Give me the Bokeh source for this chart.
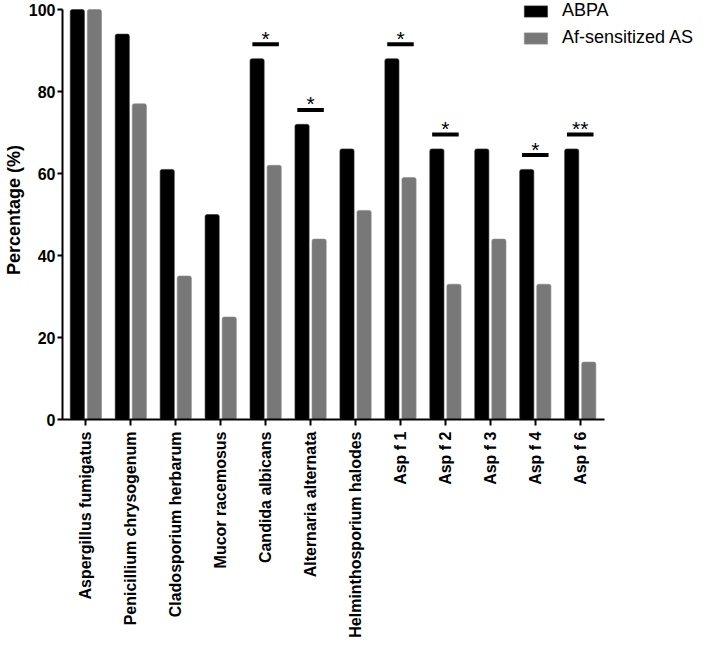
from bokeh.plotting import figure
from bokeh.models import FactorRange, Range1d, ColumnDataSource, Legend, LegendItem, FixedTicker
from bokeh.transform import dodge
from bokeh.core.properties import value
from bokeh.embed import file_html
from bokeh.resources import INLINE
import math

categories = ["Aspergillus fumigatus", "Penicillium chrysogenum", "Cladosporium herbarum",
              "Mucor racemosus", "Candida albicans", "Alternaria alternata",
              "Helminthosporium halodes", "Asp f 1", "Asp f 2", "Asp f 3", "Asp f 4", "Asp f 6"]
abpa = [100, 94, 61, 50, 88, 72, 66, 88, 66, 66, 61, 66]
af_as = [100, 77, 35, 25, 62, 44, 51, 59, 33, 44, 33, 14]
y_ticks = [0, 20, 40, 60, 80, 100]

sig_categories = ["Candida albicans", "Alternaria alternata", "Asp f 1", "Asp f 2", "Asp f 4", "Asp f 6"]
sig_y = [91.5, 75.5, 91.5, 69.5, 64.5, 69.5]
sig_marks = ["*", "*", "*", "*", "*", "**"]

# empty factors that only widen the frame so the legend has room on the right
pad_factors = ["_pad_1", "_pad_2"]

FONT = "Liberation Sans"
GRAY = "#787878"

src = ColumnDataSource(dict(cat=categories, abpa=abpa, af_as=af_as))
sig = ColumnDataSource(dict(cat=sig_categories, y=sig_y, mark=sig_marks))

xr = FactorRange(factors=categories + pad_factors, range_padding=0.04 / 14)
p = figure(x_range=xr, y_range=Range1d(0, 102.2), width=693, height=640,
           output_backend="svg", toolbar_location=None,
           min_border_left=50, min_border_right=0, min_border_top=0, min_border_bottom=200)

r1 = p.vbar(x=dodge("cat", -0.19, range=xr), top="abpa", width=0.315, source=src,
            fill_color="black", line_color="#333333", line_width=0.6, border_radius=2)
r2 = p.vbar(x=dodge("cat", 0.19, range=xr), top="af_as", width=0.315, source=src,
            fill_color=GRAY, line_color="#8a8a8a", line_width=0.6, border_radius=2)

p.segment(x0=dodge("cat", -0.295, range=xr), x1=dodge("cat", 0.295, range=xr),
          y0="y", y1="y", source=sig, line_color="black", line_width=4)
p.text(x="cat", y="y", text="mark", source=sig, text_align="center",
       text_baseline="alphabetic", text_font=value(FONT), text_font_size="21px",
       text_color="black", y_offset=-6)

legend = Legend(items=[LegendItem(label="ABPA", renderers=[r1]),
                       LegendItem(label="Af-sensitized AS", renderers=[r2])],
                location="top_right")
legend.glyph_width = 29
legend.glyph_height = 14
legend.label_text_font = FONT
legend.label_text_font_size = "18px"
legend.label_text_color = "black"
legend.label_standoff = 12
legend.label_height = 20
legend.spacing = 6
legend.padding = 0
legend.margin = 0
legend.border_line_color = None
legend.background_fill_alpha = 0
p.add_layout(legend, "center")

p.xgrid.visible = False
p.ygrid.visible = False
p.outline_line_color = None

p.yaxis.ticker = FixedTicker(ticks=y_ticks)
p.yaxis.bounds = (0, 100)
p.xaxis.bounds = (-0.02, 12.05)
p.yaxis.axis_label = "Percentage (%)"
p.yaxis.axis_label_text_font = FONT
p.yaxis.axis_label_text_font_style = "bold"
p.yaxis.axis_label_text_font_size = "18px"
p.yaxis.axis_label_text_color = "black"
p.yaxis.axis_label_standoff = 2
p.yaxis.minor_tick_line_color = None

for ax in (p.xaxis, p.yaxis):
    ax.axis_line_width = 2
    ax.axis_line_color = "black"
    ax.major_tick_line_width = 2
    ax.major_tick_line_color = "black"
    ax.major_tick_in = 0
    ax.major_tick_out = 6
    ax.major_label_text_font = FONT
    ax.major_label_text_font_style = "bold"
    ax.major_label_text_font_size = "16px"
    ax.major_label_text_color = "black"

p.yaxis.major_label_standoff = 2
p.yaxis.major_tick_out = 5
p.xaxis.major_label_orientation = math.pi / 2
p.xaxis.major_label_standoff = 6

open("out.html", "w").write(file_html(p, INLINE))
